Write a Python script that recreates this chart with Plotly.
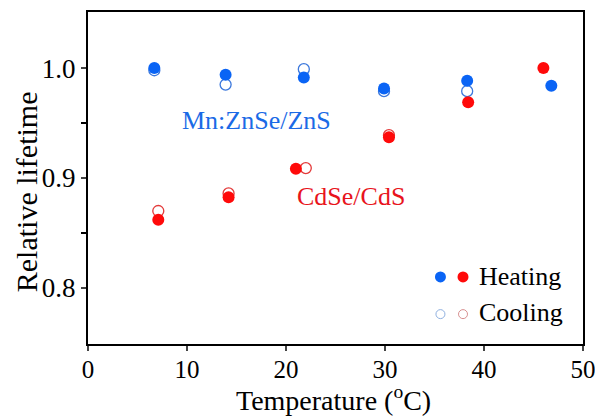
import plotly.graph_objects as go

# Data
mn_heat_T = [6.7, 13.9, 21.8, 29.9, 38.3, 46.8]
mn_heat_v = [1.000, 0.994, 0.9915, 0.9815, 0.9885, 0.984]
mn_cool_T = [6.7, 13.9, 21.8, 29.9, 38.3]
mn_cool_v = [0.998, 0.985, 0.999, 0.979, 0.979]

cd_heat_T = [7.1, 14.2, 21.0, 30.4, 38.4, 46.0]
cd_heat_v = [0.862, 0.8825, 0.9085, 0.937, 0.969, 1.000]
cd_cool_T = [7.1, 14.2, 22.0, 30.4]
cd_cool_v = [0.870, 0.886, 0.909, 0.939]

x_ticks = [0, 10, 20, 30, 40, 50]
y_ticks = [0.8, 0.9, 1.0]
y_ticktext = ["0.8", "0.9", "1.0"]
y_minor_ticks = [0.85, 0.95]

BLUE = "#0a64f5"
RED = "#ff0a0a"
BLUE_OPEN = "#3c78dc"
RED_OPEN = "#e33a3a"
FONT = "Liberation Serif"

fig = go.Figure()
fig.add_trace(go.Scatter(x=mn_cool_T, y=mn_cool_v, mode="markers", name="Mn cooling",
                         marker=dict(symbol="circle-open", size=11, color=BLUE_OPEN, line=dict(width=1.3))))
fig.add_trace(go.Scatter(x=cd_cool_T, y=cd_cool_v, mode="markers", name="Cd cooling",
                         marker=dict(symbol="circle-open", size=11, color=RED_OPEN, line=dict(width=1.3))))
fig.add_trace(go.Scatter(x=mn_heat_T, y=mn_heat_v, mode="markers", name="Mn heating",
                         marker=dict(symbol="circle", size=12, color=BLUE, line=dict(width=0))))
fig.add_trace(go.Scatter(x=cd_heat_T, y=cd_heat_v, mode="markers", name="Cd heating",
                         marker=dict(symbol="circle", size=12, color=RED, line=dict(width=0))))

# Labels
fig.add_annotation(x=17.0, y=0.952, text="Mn:ZnSe/ZnS", showarrow=False,
                   font=dict(family=FONT, size=26, color="#1a6ae6"), xanchor="center", yanchor="middle")
fig.add_annotation(x=26.6, y=0.8835, text="CdSe/CdS", showarrow=False,
                   font=dict(family=FONT, size=26, color="#e8141c"), xanchor="center", yanchor="middle")

# Axis titles
fig.add_annotation(xref="paper", yref="paper", x=0.4956, y=-0.2199, text="Temperature (<sup>o</sup>C)",
                   showarrow=False, xanchor="center", yanchor="bottom", borderpad=0,
                   font=dict(family=FONT, size=28, color="black"))
fig.add_annotation(xref="paper", yref="paper", x=-0.1226, y=0.458, text="Relative lifetime",
                   showarrow=False, xanchor="center", yanchor="middle", textangle=-90,
                   font=dict(family=FONT, size=30, color="black"))

# Manual legend
def leg_circle(xp, yp, d, fill, line, lw):
    fig.add_shape(type="circle", xref="paper", yref="paper", xsizemode="pixel", ysizemode="pixel",
                  xanchor=xp, yanchor=yp, x0=-d / 2, x1=d / 2, y0=-d / 2, y1=d / 2,
                  fillcolor=fill, line=dict(color=line, width=lw))

leg_circle(0.712, 0.202, 11, BLUE, BLUE, 0)
leg_circle(0.7576, 0.202, 11, RED, RED, 0)
leg_circle(0.712, 0.090, 9, "rgba(0,0,0,0)", "#8fb0e0", 1)
leg_circle(0.7576, 0.090, 9, "rgba(0,0,0,0)", "#d89090", 1)
fig.add_annotation(xref="paper", yref="paper", x=0.785, y=0.204, text="Heating", showarrow=False,
                   xanchor="left", yanchor="middle", font=dict(family=FONT, size=26, color="black"))
fig.add_annotation(xref="paper", yref="paper", x=0.785, y=0.094, text="Cooling", showarrow=False,
                   xanchor="left", yanchor="middle", font=dict(family=FONT, size=26, color="black"))

fig.update_layout(
    width=595, height=417,
    margin=dict(l=88, r=12, t=12, b=73),
    paper_bgcolor="white", plot_bgcolor="white",
    showlegend=False,
    font=dict(family=FONT, color="black"),
    xaxis=dict(range=[0, 50], tickvals=x_ticks, ticks="outside", ticklen=5, tickwidth=1.5,
               showline=True, linecolor="black", linewidth=2, mirror=True, showgrid=False, zeroline=False,
               automargin=False, ticklabeloverflow="allow", ticklabelstandoff=-3,
               tickfont=dict(family=FONT, size=25, color="black")),
    yaxis=dict(range=[0.749, 1.051], tickvals=y_ticks, ticktext=y_ticktext, ticks="outside", ticklen=5,
               tickwidth=1.5, showline=True, linecolor="black", linewidth=2, mirror=True, showgrid=False,
               zeroline=False, automargin=False, ticklabeloverflow="allow",
               minor=dict(tickvals=y_minor_ticks, ticks="outside", ticklen=5, tickwidth=1.5,
                          tickcolor="black", showgrid=False),
               tickfont=dict(family=FONT, size=27, color="black")),
)

fig.write_html("out.html")
